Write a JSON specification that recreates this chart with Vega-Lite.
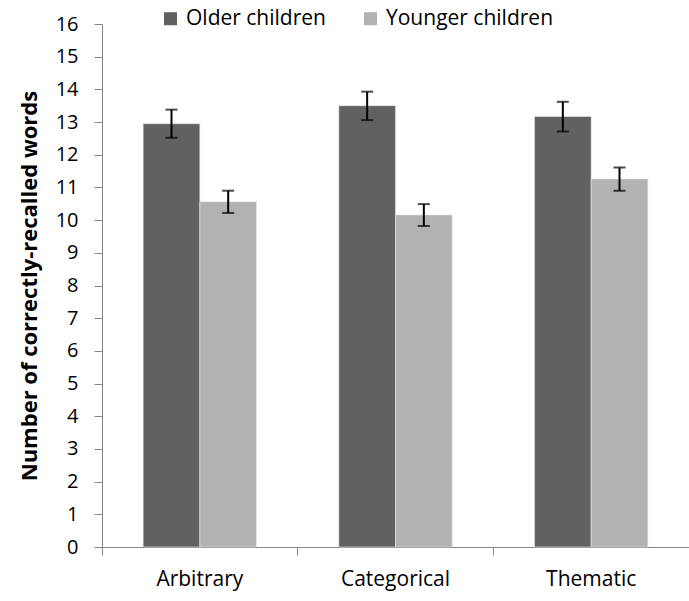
{
  "$schema": "https://vega.github.io/schema/vega-lite/v6.json",
  "autosize": "none",
  "padding": {"left": 102, "top": 24, "right": 0, "bottom": 54},
  "width": 587,
  "height": 523,
  "background": "white",
  "config": {
    "view": {"stroke": null},
    "font": "Open Sans",
    "axis": {"grid": false},
    "axisY": {
      "titleFontSize": 22, "titleFontWeight": "bold", "titleColor": "#000000", "titlePadding": 14,
      "titleFont": "Open Sans", "labelOverlap": false, "labelFontSize": 20, "labelColor": "#000000",
      "labelPadding": 16, "labelFont": "Open Sans", "tickSize": 8, "tickColor": "#868686", "domainColor": "#868686"
    }
  },
  "data": {
    "values": [
      {"condition": "Arbitrary", "group": "Older children", "mean": 12.95, "lo": 12.52, "hi": 13.38},
      {"condition": "Arbitrary", "group": "Younger children", "mean": 10.56, "lo": 10.22, "hi": 10.9},
      {"condition": "Categorical", "group": "Older children", "mean": 13.5, "lo": 13.06, "hi": 13.93},
      {"condition": "Categorical", "group": "Younger children", "mean": 10.16, "lo": 9.82, "hi": 10.49},
      {"condition": "Thematic", "group": "Older children", "mean": 13.17, "lo": 12.71, "hi": 13.62},
      {"condition": "Thematic", "group": "Younger children", "mean": 11.26, "lo": 10.9, "hi": 11.61}
    ]
  },
  "encoding": {
    "x": {
      "field": "condition", "type": "nominal", "sort": null,
      "scale": {"paddingInner": 0, "paddingOuter": 0},
      "axis": {
        "title": null, "bandPosition": 0, "labelAlign": "center",
        "labelAngle": 0, "labelFontSize": 21, "labelColor": "#000000", "labelPadding": 13,
        "tickSize": 8, "tickColor": "#868686", "domainColor": "#868686", "labelFont": "Open Sans"
      }
    },
    "xOffset": {
      "field": "group", "type": "nominal", "sort": null,
      "scale": {"paddingInner": 0, "paddingOuter": 0.726}
    }
  },
  "layer": [
    {
      "mark": {"type": "bar", "stroke": "#e8e8e8", "strokeWidth": 0.6},
      "encoding": {
        "y": {
          "field": "mean", "type": "quantitative",
          "scale": {"domain": [0, 16], "nice": false},
          "axis": {"title": "Number of correctly-recalled words", "values": [0,1,2,3,4,5,6,7,8,9,10,11,12,13,14,15,16]}
        },
        "color": {
          "field": "group", "type": "nominal", "sort": null,
          "scale": {"range": ["#616161", "#b2b2b2"]},
          "legend": {
            "title": null, "orient": "none", "direction": "horizontal",
            "legendX": 58, "legendY": -16,
            "symbolType": "square", "symbolSize": 170, "symbolStrokeWidth": 0,
            "labelFontSize": 21, "labelColor": "#000000", "labelFont": "Open Sans", "labelLimit": 400,
            "labelOffset": 5, "columnPadding": 34
          }
        }
      }
    },
    {
      "mark": {"type": "rule", "color": "#000000", "strokeWidth": 2},
      "encoding": {
        "y": {"field": "lo", "type": "quantitative",
          "axis": {"title": "Number of correctly-recalled words", "values": [0,1,2,3,4,5,6,7,8,9,10,11,12,13,14,15,16]}},
        "y2": {"field": "hi"}
      }
    },
    {
      "mark": {"type": "tick", "orient": "horizontal", "color": "#000000", "size": 12, "thickness": 2},
      "encoding": {
        "y": {"field": "lo", "type": "quantitative",
          "axis": {"title": "Number of correctly-recalled words", "values": [0,1,2,3,4,5,6,7,8,9,10,11,12,13,14,15,16]}}
      }
    },
    {
      "mark": {"type": "tick", "orient": "horizontal", "color": "#000000", "size": 12, "thickness": 2},
      "encoding": {
        "y": {"field": "hi", "type": "quantitative",
          "axis": {"title": "Number of correctly-recalled words", "values": [0,1,2,3,4,5,6,7,8,9,10,11,12,13,14,15,16]}}
      }
    }
  ]
}
